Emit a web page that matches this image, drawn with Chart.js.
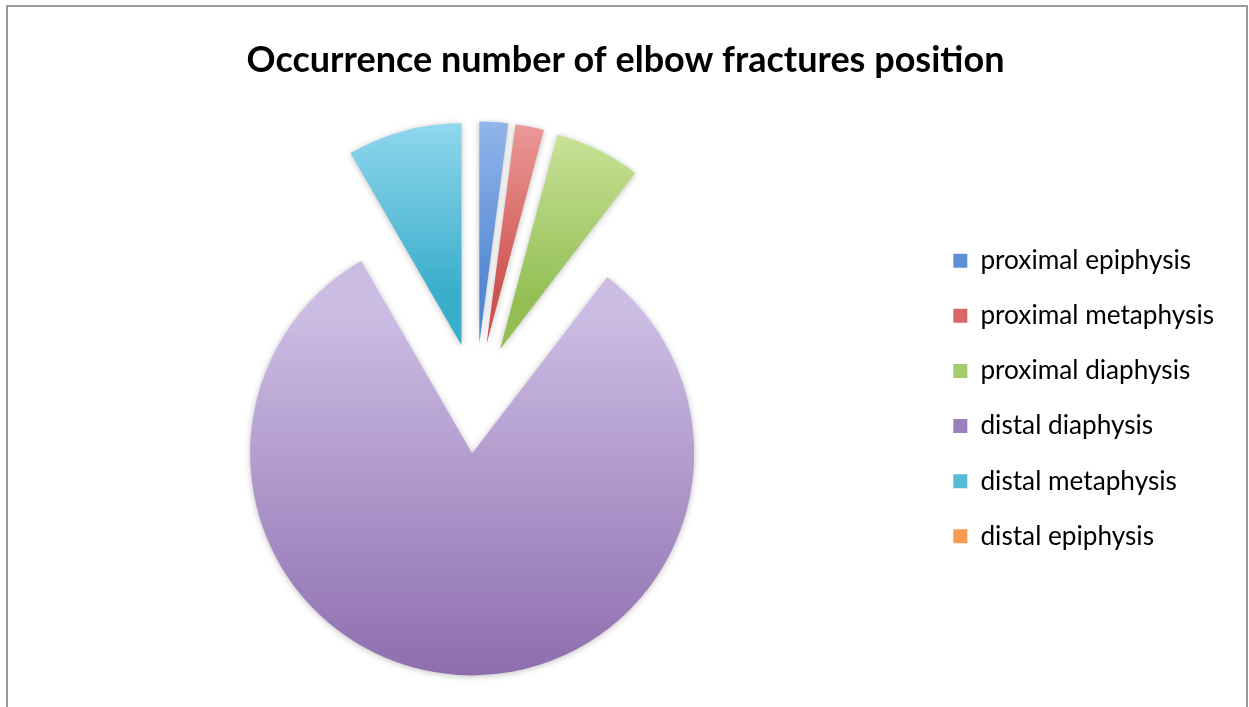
<!DOCTYPE html>
<html>
<head>
<meta charset="utf-8">
<title>Elbow fractures</title>
<script src="https://cdn.jsdelivr.net/npm/chart.js@4.4.1/dist/chart.umd.min.js"></script>
<style>
  html, body { margin: 0; padding: 0; background: #fff; }
  body { width: 1249px; height: 707px; overflow: hidden; position: relative; }
  #frame { position: absolute; left: 6px; top: 5px; width: 1238px; height: 720px; border: 2px solid #9a9a9a; border-bottom: none; }
  #wrap { position: absolute; left: 8px; top: 7px; width: 1238px; height: 700px; }
</style>
</head>
<body>
<div id="frame"></div>
<div id="wrap"><canvas id="elbowChart"></canvas></div>
<script>
const categories = ['proximal epiphysis', 'proximal metaphysis', 'proximal diaphysis',
                    'distal diaphysis', 'distal metaphysis', 'distal epiphysis'];
const counts = [1, 1, 3, 39, 4, 0];

// each slice fades from a light top to a deeper bottom
const topColors = ['#a7c5f3', '#f5b0ae', '#d7eca9', '#cbbce3', '#abe4f8', '#fbc89c'];
const bottomColors = ['#5387d2', '#cd5350', '#93bf55', '#8562a7', '#3aaecb', '#f48e3a'];
const legendColors = ['#5d8fd7', '#d86664', '#a6cb6d', '#9a81bb', '#55bbd7', '#f89b50'];

const PIE_RADIUS = 222;
const EXPLODE = 55; // how far every slice is pulled away from the centre

function sliceGradient(context) {
    const chart = context.chart;
    const area = chart.chartArea;
    const i = context.dataIndex;
    if (!area) return legendColors[i];
    const total = counts.reduce((a, b) => a + b, 0);
    let before = 0;
    for (let k = 0; k < i; k++) before += counts[k];
    const a0 = before / total * 2 * Math.PI - Math.PI / 2;
    const a1 = (before + counts[i]) / total * 2 * Math.PI - Math.PI / 2;
    const mid = (a0 + a1) / 2;
    const cy = (area.top + area.bottom) / 2 + Math.sin(mid) * EXPLODE;
    const ys = [cy, cy + Math.sin(a0) * PIE_RADIUS, cy + Math.sin(a1) * PIE_RADIUS];
    [-Math.PI / 2, Math.PI / 2, 3 * Math.PI / 2].forEach(t => {
        if (t > a0 && t < a1) ys.push(cy + Math.sin(t) * PIE_RADIUS);
    });
    const y0 = Math.min(...ys), y1 = Math.max(...ys);
    if (y1 - y0 < 1) return legendColors[i];
    const g = chart.ctx.createLinearGradient(0, y0, 0, y1);
    g.addColorStop(0, topColors[i]);
    g.addColorStop(1, bottomColors[i]);
    return g;
}

// Chart.js grows an offset arc and trims its angle; undo both so every
// exploded slice keeps the same radius and its true share of the circle
const explodedPie = {
    id: 'explodedPie',
    afterDatasetsUpdate(chart) {
        chart.getDatasetMeta(0).data.forEach(arc => {
            const shift = (arc.options.offset || 0) / 4;
            const fix = 1 - Math.sin(Math.min(Math.PI, arc.circumference || 0));
            const grow = shift * fix;
            arc.outerRadius = PIE_RADIUS - grow;
            if (arc.circumference > 0) {
                const pad = grow / (2 * Math.PI * PIE_RADIUS);
                arc.startAngle -= pad;
                arc.endAngle += pad;
            }
        });
    },
    beforeDatasetsDraw(chart) {
        const ctx = chart.ctx;
        ctx.save();
        ctx.shadowColor = 'rgba(0, 0, 0, 0.25)';
        ctx.shadowBlur = 6;
        ctx.shadowOffsetY = 1;
    },
    afterDatasetsDraw(chart) {
        chart.ctx.restore();
    }
};

const ctx = document.getElementById('elbowChart');

const elbow = new Chart(ctx, {
    type: 'pie',
    data: {
        labels: categories,
        datasets: [{
            data: counts,
            backgroundColor: sliceGradient,
            borderWidth: 0,
            offset: EXPLODE * 4,
            radius: PIE_RADIUS,
            clip: false
        }]
    },
    options: {
        responsive: true,
        maintainAspectRatio: false,
        animation: false,
        events: [],
        layout: {
            padding: { left: 19, right: 22, top: 0, bottom: 16 }
        },
        plugins: {
            title: {
                display: true,
                text: 'Occurrence number of elbow fractures position',
                color: '#000',
                font: { family: 'Lato', size: 36, weight: 'bold' },
                padding: { top: 31.5, bottom: 24.3 }
            },
            legend: {
                position: 'right',
                fullSize: false,
                labels: {
                    color: '#000',
                    font: { family: 'Lato', size: 26.2 },
                    boxWidth: 14,
                    boxHeight: 14,
                    padding: 28.9,
                    generateLabels: function(chart) {
                        return categories.map((label, i) => ({
                            text: label,
                            fillStyle: legendColors[i],
                            strokeStyle: legendColors[i],
                            lineWidth: 0,
                            hidden: false,
                            index: i
                        }));
                    }
                }
            },
            tooltip: { enabled: false }
        }
    },
    plugins: [explodedPie]
});
</script>
</body>
</html>
